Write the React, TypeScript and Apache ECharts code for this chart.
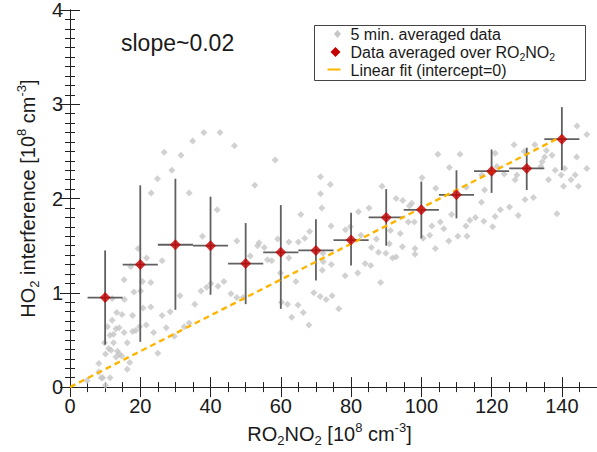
import React, { useEffect, useRef } from 'react';
import * as echarts from 'echarts';

// 5-minute averaged data [RO2NO2 (1e8 cm-3), HO2 interference (1e8 cm-3)]
const grayPoints: [number, number][] = [
  [17.3,1.28],[15.4,1.14],[20.6,1.12],[23.0,1.11],[18.2,1.01],[20.1,1.02],[12.0,0.94],[15.5,0.93],[31.3,0.97],[35.5,0.88],
  [20.8,0.84],[23.0,0.85],[13.3,0.79],[14.8,0.77],[17.8,0.76],[26.2,0.76],[28.5,0.80],[12.0,0.71],[10.7,0.64],[21.7,0.66],
  [13.1,0.62],[14.0,0.63],[15.4,0.58],[17.8,0.59],[18.7,0.60],[19.8,0.64],[27.4,0.63],[32.5,0.64],[33.9,0.68],[23.8,0.58],
  [11.4,0.55],[12.4,0.56],[29.7,0.54],[12.4,0.47],[16.3,0.47],[9.8,0.47],[11.0,0.41],[11.7,0.39],[13.5,0.38],[14.0,0.35],
  [10.1,0.35],[13.1,0.32],[14.7,0.33],[25.0,0.36],[8.2,0.25],[17.0,0.26],[16.3,0.19],[8.2,0.16],[8.9,0.10],[9.3,0.10],
  [11.4,0.10],[4.9,0.07],[10.1,0.02],
  [38.1,2.70],[34.9,2.61],[26.8,2.49],[31.6,2.46],[29.0,2.30],[24.9,2.21],[23.1,2.06],[33.9,2.06],[37.7,1.60],[19.4,1.47],
  [21.8,1.37],[26.2,1.34],
  [42.7,2.70],[46.8,2.56],[58.4,2.41],[52.6,2.14],[41.9,1.88],[65.7,1.83],[71.3,2.23],[71.3,2.05],[71.7,1.90],[68.2,1.65],
  [66.8,1.58],[65.0,1.54],[62.3,1.54],[59.1,1.57],[47.5,1.55],[53.8,1.53],[53.4,1.50],[55.3,1.48],[51.3,1.39],[56.2,1.35],
  [57.4,1.34],[62.3,1.37],[72.1,1.33],[59.9,1.21],[40.1,1.10],[38.9,1.06],[37.3,1.02],[43.8,1.12],[42.1,1.07],[45.8,0.99],
  [47.5,0.95],[49.3,0.95],[60.2,0.90],[61.9,0.88],[64.9,0.87],[66.4,0.79],[69.4,1.00],[71.2,0.96],[71.8,1.24],[64.3,1.12],
  [63.1,0.74],[68.0,0.66],
  [74.1,2.15],[72.0,1.42],[88.8,2.13],[100.2,2.22],[104.7,2.47],[108.0,2.33],[104.1,2.11],[92.8,2.00],[94.7,1.98],[97.3,1.95],
  [96.6,1.92],[82.1,1.86],[85.1,1.90],[108.6,1.83],[74.3,1.71],[78.4,1.67],[79.8,1.70],[96.3,1.75],[98.0,1.75],[103.0,1.71],
  [105.4,1.75],[106.4,1.68],[82.8,1.61],[91.2,1.66],[94.0,1.63],[87.2,1.57],[102.4,1.61],[107.8,1.55],[100.5,1.58],[85.8,1.48],
  [90.9,1.52],[94.6,1.49],[104.0,1.47],[87.8,1.43],[89.9,1.42],[91.8,1.37],[92.8,1.38],[98.2,1.47],[98.2,1.41],[74.4,1.30],
  [84.0,1.31],[85.6,1.29],[81.9,1.21],[78.3,1.18],[88.4,1.11],[72.9,0.93],[74.6,0.97],[76.5,0.83],
  [144.3,2.77],[147.1,2.68],[126.4,2.57],[121.0,2.48],[111.0,2.47],[129.3,2.50],[132.3,2.57],[135.6,2.51],[135.1,2.44],[137.2,2.46],
  [144.2,2.44],[134.4,2.39],[134.0,2.34],[121.5,2.34],[138.1,2.30],[140.8,2.32],[147.1,2.32],[117.2,2.25],[123.6,2.26],[127.2,2.25],
  [139.8,2.25],[143.8,2.25],[126.7,2.20],[136.2,2.20],[142.6,2.20],[144.7,2.13],[140.5,2.13],[112.8,2.12],[118.0,2.09],[129.5,1.99],
  [131.9,2.01],[117.1,1.96],[125.1,1.91],[122.5,1.88],[138.6,1.84],[115.4,1.80],[113.8,1.77],[121.0,1.81],[127.6,1.82],[117.8,1.76],
  [112.7,1.71],[120.3,1.70],[110.4,1.60],[113.0,1.60],
];

// Data averaged over RO2NO2 bins
const avgX = [10, 20, 30, 40, 50, 60, 70, 80, 90, 100, 110, 120, 130, 140];
const avgY = [0.95, 1.30, 1.51, 1.50, 1.31, 1.43, 1.45, 1.56, 1.80, 1.88, 2.04, 2.29, 2.32, 2.63];
const avgHigh = [1.45, 2.14, 2.21, 2.02, 1.74, 1.93, 1.78, 1.85, 2.10, 2.18, 2.30, 2.52, 2.54, 2.97];
const avgLow = [0.45, 0.48, 0.82, 0.98, 0.88, 0.83, 1.13, 1.29, 1.50, 1.58, 1.79, 2.06, 2.09, 2.30];
const xHalfWidth = [5, 5, 5, 5, 5, 5, 5, 5, 5, 5, 5, 5, 5, 5];

// Linear fit through origin
const fitSlope = 0.019;
const fitX = [0, 140];

const legendLabels = ['5 min. averaged data', 'Data averaged over RO{sub|2}NO{sub|2}', 'Linear fit (intercept=0)'];
const slopeText = 'slope~0.02';

const FONT = 'Liberation Sans, Arial, Helvetica, sans-serif';
const TXT = '#1a1a1a';
const GRAY = '#c6c6c6';
const RED = '#c40000';
const ORANGE = '#ffb400';
const BAR = '#606060';

export default function App() {
  const ref = useRef<HTMLDivElement>(null);
  useEffect(() => {
    if (!ref.current) return;
    const chart = echarts.init(ref.current, undefined, { renderer: 'svg' });
    const subRich = {
      sub: { fontSize: 13, fontFamily: FONT, color: TXT, verticalAlign: 'bottom', lineHeight: 13 },
      sup: { fontSize: 13, fontFamily: FONT, color: TXT, verticalAlign: 'top', lineHeight: 13 },
    };
    const legendRich = {
      sub: { fontSize: 10.5, fontFamily: FONT, color: TXT, verticalAlign: 'bottom', height: 5 },
    };
    const tickCommon = {
      axisLine: { show: true, lineStyle: { color: '#222', width: 1 } },
      axisTick: { show: true, inside: true, length: 10, lineStyle: { color: '#222', width: 1 } },
      splitLine: { show: false },
    };
    const legendText = (i: number, y: number) => ({
      type: 'text', x: 36, y,
      style: {
        text: legendLabels[i], fontSize: 16, fontFamily: FONT, fill: TXT,
        verticalAlign: 'middle', lineHeight: 15, rich: legendRich,
      },
    });
    const option: any = {
      animation: false,
      grid: { left: 70, top: 7, width: 535, height: 388, containLabel: false },
      xAxis: [
        {
          type: 'value', min: 0, max: 150, interval: 20, position: 'bottom',
          ...tickCommon,
          minorTick: { show: true, splitNumber: 4, length: 5, lineStyle: { color: '#222', width: 1 } },
          axisLabel: { show: true, fontSize: 20, fontFamily: FONT, color: TXT, margin: 9, showMaxLabel: false },
          name: 'RO{sub|2}NO{sub|2} [10{sup|8} cm{sup|-3}]',
          nameLocation: 'middle', nameGap: 29,
          nameTextStyle: { fontSize: 20, fontFamily: FONT, color: TXT, lineHeight: 26, rich: subRich, padding: [0, 8, 0, 0] },
        },
        {
          type: 'value', min: 0, max: 150, interval: 20, position: 'top',
          ...tickCommon,
          minorTick: { show: true, splitNumber: 4, length: 5, lineStyle: { color: '#222', width: 1 } },
          axisLabel: { show: false },
        },
      ],
      yAxis: [
        {
          type: 'value', min: 0, max: 4, interval: 1, position: 'left',
          ...tickCommon,
          minorTick: { show: true, splitNumber: 10, length: 5, lineStyle: { color: '#222', width: 1 } },
          axisLabel: { show: true, fontSize: 20, fontFamily: FONT, color: TXT, margin: 7 },
          name: 'HO{sub|2} interference [10{sup|8} cm{sup|-3}]',
          nameLocation: 'middle', nameGap: 25,
          nameTextStyle: { fontSize: 20, fontFamily: FONT, color: TXT, lineHeight: 26, rich: subRich },
        },
        {
          type: 'value', min: 0, max: 4, interval: 1, position: 'right',
          ...tickCommon,
          minorTick: { show: true, splitNumber: 10, length: 5, lineStyle: { color: '#222', width: 1 } },
          axisLabel: { show: false },
        },
      ],
      series: [
        {
          type: 'scatter', name: 'gray', data: grayPoints, symbol: 'diamond', symbolSize: 7,
          itemStyle: { color: GRAY }, silent: true, z: 2,
        },
        {
          type: 'custom', name: 'errors', silent: true, z: 3,
          data: avgX.map((x, i) => [x, avgY[i], avgLow[i], avgHigh[i], xHalfWidth[i]]),
          encode: { x: 0, y: 1 },
          renderItem: (_p: any, api: any) => {
            const x = api.value(0), y = api.value(1), lo = api.value(2), hi = api.value(3), xe = api.value(4);
            const t = api.coord([x, hi]);
            const b = api.coord([x, lo]);
            const l = api.coord([x - xe, y]);
            const r = api.coord([x + xe, y]);
            return {
              type: 'group',
              children: [
                { type: 'line', shape: { x1: t[0], y1: t[1], x2: b[0], y2: b[1] }, style: { stroke: BAR, lineWidth: 1.8 } },
                { type: 'line', shape: { x1: l[0], y1: l[1], x2: r[0], y2: r[1] }, style: { stroke: BAR, lineWidth: 1.8 } },
              ],
            };
          },
        },
        {
          type: 'line', name: 'fit', data: fitX.map((x) => [x, fitSlope * x]), showSymbol: false, symbol: 'none',
          lineStyle: { color: ORANGE, width: 2.4, type: [6, 4] }, silent: true, z: 4,
        },
        {
          type: 'scatter', name: 'avg', data: avgX.map((x, i) => [x, avgY[i]]), symbol: 'diamond', symbolSize: 11,
          itemStyle: { color: RED }, silent: true, z: 5,
        },
      ],
      graphic: [
        {
          type: 'text', left: 121, top: 31, z: 10,
          style: { text: slopeText, fontSize: 23, fontFamily: FONT, fill: TXT },
        },
        {
          type: 'group', left: 314, top: 25, z: 10,
          children: [
            { type: 'rect', shape: { x: 0, y: 0, width: 271, height: 55 }, style: { fill: '#fff', stroke: '#444', lineWidth: 1 } },
            { type: 'polygon', shape: { points: [[23, 4.5], [26.5, 8.5], [23, 12.5], [19.5, 8.5]] }, style: { fill: GRAY } },
            { type: 'polygon', shape: { points: [[21, 21.5], [26, 26.5], [21, 31.5], [16, 26.5]] }, style: { fill: RED } },
            { type: 'line', shape: { x1: 13, y1: 44, x2: 26, y2: 44 }, style: { stroke: ORANGE, lineWidth: 2 } },
            legendText(0, 8.5),
            legendText(1, 26.5),
            legendText(2, 44.5),
          ],
        },
      ],
    };
    chart.setOption(option);
    return () => chart.dispose();
  }, []);
  return (
    <div
      ref={ref}
      style={{ position: 'absolute', left: 0, top: 0, width: 597, height: 452, overflow: 'hidden', background: '#fff' }}
    />
  );
}
